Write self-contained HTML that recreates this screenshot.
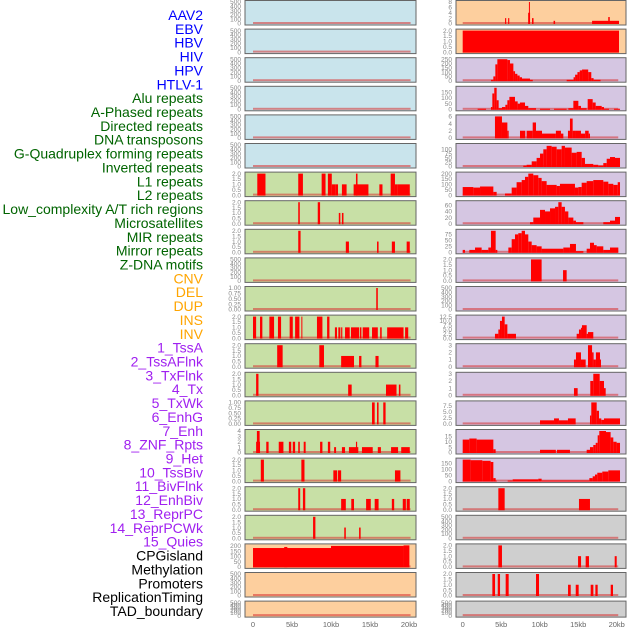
<!DOCTYPE html>
<html><head><meta charset="utf-8">
<style>
html,body{margin:0;padding:0;background:#fff;}
#wrap{position:relative;width:630px;height:630px;overflow:hidden;font-family:"Liberation Sans",sans-serif;}
svg{position:absolute;left:0;top:0;}
</style></head>
<body>
<div id="wrap">
<svg id="chart" width="630" height="630" viewBox="0 0 630 630"></svg>
</div>
<script>
const trackNames = ["AAV2","EBV","HBV","HIV","HPV","HTLV-1","Alu repeats","A-Phased repeats","Directed repeats","DNA transposons","G-Quadruplex forming repeats","Inverted repeats","L1 repeats","L2 repeats","Low_complexity A/T rich regions","Microsatellites","MIR repeats","Mirror repeats","Z-DNA motifs","CNV","DEL","DUP","INS","INV","1_TssA","2_TssAFlnk","3_TxFlnk","4_Tx","5_TxWk","6_EnhG","7_Enh","8_ZNF_Rpts","9_Het","10_TssBiv","11_BivFlnk","12_EnhBiv","13_ReprPC","14_ReprPCWk","15_Quies","CPGisland","Methylation","Promoters","ReplicationTiming","TAD_boundary"];
const labelColors = ["#0000ff","#006400","#ffa500","#a020f0","#000000"];
const labelGroup = [0,0,0,0,0,0,1,1,1,1,1,1,1,1,1,1,1,1,1,2,2,2,2,2,3,3,3,3,3,3,3,3,3,3,3,3,3,3,3,4,4,4,4,4];
const panelColors = {blue:"#c9e4ec",green:"#c8e0a6",orange:"#fdcf9e",purple:"#d5c6e2",gray:"#cfcfcf"};
const trackBg = ["blue","blue","blue","blue","blue","blue","green","green","green","green","green","green","green","green","green","green","green","green","green","orange","orange","orange","orange","orange","purple","purple","purple","purple","purple","purple","purple","purple","purple","purple","purple","purple","purple","purple","purple","gray","gray","gray","gray","gray"];
const xTickValues = [0,5,10,15,20];
const xTickLabels = ["0","5kb","10kb","15kb","20kb"];

const trackYMax = [500,500,500,500,500,500,2,2,2,500,1,2,2,2,1,4,2,2,2,205,500,500,8,2,250,190,6,125,200,70,90,2,500,12.5,3,3,9,20,180,2,500,2,2,500];
const tick500 = ["0","100","200","300","400","500"];
const tick2 = ["0.0","0.5","1.0","1.5","2.0"];
const tick1 = ["0.00","0.25","0.50","0.75","1.00"];
const tick4 = ["0","1","2","3","4"];
const tick200 = ["0","50","100","150","200"];
const tick8 = ["0","2","4","6","8"];
const tick250 = ["0","50","100","150","200","250"];
const tick150 = ["0","50","100","150"];
const tick6 = ["0","2","4","6"];
const tick100 = ["0","25","50","75","100"];
const tick60 = ["0","20","40","60"];
const tick75 = ["0","25","50","75"];
const tick125 = ["0.0","2.5","5.0","7.5","10.0","12.5"];
const tick3 = ["0","1","2","3"];
const tick75b = ["0.0","2.5","5.0","7.5"];
const tick15 = ["0","5","10","15"];
const trackTicks = [tick500,tick500,tick500,tick500,tick500,tick500,tick2,tick2,tick2,tick500,tick1,tick2,tick2,tick2,tick1,tick4,tick2,tick2,tick2,tick200,tick500,tick500,tick8,tick2,tick250,tick150,tick6,tick100,tick200,tick60,tick75,tick2,tick500,tick125,tick3,tick3,tick75b,tick15,tick150,tick2,tick500,tick2,tick2,tick500];

const aluRepeats = [[0.55,1.6,2],[5.8,6.4,2],[8.8,9.3,2],[9.6,10.1,2],[10.1,10.6,1],[10.6,10.9,1],[11.4,12.0,1],[12.9,14.8,1],[13.2,13.4,2],[16.2,16.6,1],[17.65,18.2,2],[18.2,18.5,1],[18.5,20.1,1]];
const aPhased = [[5.8,6.0,2],[8.3,8.6,2],[11.0,11.2,1],[11.4,11.6,1]];
const directed = [[5.8,6.1,2],[11.9,12.3,1],[15.9,16.1,1],[17.8,18.2,1],[19.7,20.1,1]];
const gQuad = [[15.8,16.0,1]];
const inverted = [[0,0.4,2],[0.9,1.2,2],[2.1,2.7,2],[3.2,3.6,2],[4.7,5.1,2],[5.4,5.95,2],[6.2,6.3,2],[8.2,8.9,2],[9.5,9.8,2],[10.5,10.77,1],[10.94,11.2,1],[11.3,11.45,1],[11.8,12.4,1],[12.56,13.6,1],[13.7,13.9,1],[14.06,14.9,1],[15.26,16.0,1],[16.3,16.5,1],[17.2,19.3,1],[19.5,19.9,1]];
const l1 = [[3.1,3.8,2],[8.5,9.1,2],[11.3,12.95,1],[13.6,13.9,1],[15.7,16.1,1]];
const l2 = [[0.4,0.7,2],[12.2,12.65,1],[17.05,18.4,1],[18.7,18.9,1]];
const lowComplexity = [[15.26,15.6,1],[15.9,16.1,1],[16.7,17.0,1]];
const microsat = [[0.4,0.9,2],[0.5,0.85,4],[1.7,2.0,2],[3.3,3.9,2],[4.6,4.9,2],[5.1,5.4,2],[5.8,6.0,2],[6.5,6.75,2],[8.6,8.9,2],[9.6,9.9,2],[10.4,10.65,1],[11.4,11.8,1],[12.3,13.5,1],[13.2,13.35,2],[13.97,15.35,1],[16.0,16.4,1],[17.7,18.6,1],[19.0,20.1,1]];
const mir = [[1.0,1.4,2],[6.2,6.6,2],[10.3,10.8,1],[10.9,11.3,1],[18.2,18.9,1]];
const mirror = [[5.8,6.05,2],[6.4,6.7,2],[11.3,11.9,1],[12.6,12.95,1],[14.5,15.1,1],[15.6,16.1,1],[17.8,18.1,1],[19.2,19.6,1],[19.7,20.1,1]];
const zdna = [[7.7,8.0,2],[11.7,11.9,1],[13.6,13.8,1]];
const cnv = [[0,10,180],[4.0,4.4,190],[10,19.3,200],[19.3,20.05,205]];
const ins = [[5.5,5.65,2],[5.9,6.05,2],[8.5,8.75,4],[8.6,8.7,8],[9.0,9.2,2],[11.8,12.0,1],[16.8,20.3,1],[18.9,19.1,2.4]];
const inv = [[0,20.3,2]];
const tssA = [[3.67,3.98,10],[3.98,4.24,50],[4.24,4.5,190],[4.5,5.8,250],[5.8,6.14,240],[6.14,6.58,200],[6.58,6.8,110],[6.8,7.1,80],[7.1,7.4,60],[7.4,7.7,40],[7.7,8.74,25],[8.74,9.1,10],[13.5,14.4,10],[14.4,14.6,40],[14.6,14.9,70],[14.9,15.2,100],[15.2,15.5,120],[15.5,16.3,130],[16.3,16.7,100],[16.7,17.0,30],[17.0,17.9,10]];
const tssAFlnk = [[1.94,3.03,5],[3.67,3.85,20],[3.85,4.1,140],[4.1,4.41,190],[4.41,4.67,80],[4.67,5.1,10],[5.1,5.54,20],[5.54,5.8,40],[5.8,6.06,80],[6.06,6.79,110],[6.79,7.14,70],[7.14,7.44,50],[7.44,8.09,60],[8.09,8.52,30],[8.52,9.52,10],[10.04,11.34,5],[11.86,13.5,5],[13.72,14.37,10],[14.37,15.02,75],[15.02,15.36,30],[15.36,16.1,10],[16.23,16.88,90],[16.88,17.27,60],[17.27,18.05,30],[18.05,18.35,20],[18.35,19.0,5],[19.65,20.43,5]];
const txFlnk = [[4.19,5.1,6],[5.1,5.8,4.3],[5.8,5.97,2],[7.44,8.13,2],[8.3,9.09,2],[9.09,9.52,4.3],[9.52,10.3,2],[10.3,12.1,1.2],[12.1,12.76,2],[12.76,13.07,1.2],[13.67,13.93,2],[13.93,14.28,5.4],[14.28,14.71,2],[14.71,15.36,2],[15.36,15.9,1.2],[15.9,16.36,2],[16.36,16.53,1.2]];
const tx = [[7.87,8.3,5],[8.3,8.96,10],[8.96,9.6,30],[9.6,10.04,50],[10.04,10.47,75],[10.47,10.9,100],[10.9,11.55,120],[11.55,12.2,115],[12.2,12.85,100],[12.85,13.28,120],[13.28,14.15,110],[14.15,14.8,80],[14.8,15.45,85],[15.45,15.88,50],[15.88,16.96,15],[16.96,17.6,10],[17.6,18.26,5],[18.26,18.7,20],[18.7,19.13,45],[19.13,19.78,55],[19.78,20.43,50]];
const txWk = [[0,1.38,75],[1.38,2.25,70],[2.25,3.98,80],[3.98,4.41,30],[5.49,6.36,15],[6.36,7.0,70],[7.0,7.66,120],[7.66,8.09,140],[8.09,8.52,170],[8.52,9.17,200],[9.17,9.82,185],[9.82,10.25,160],[10.25,10.9,130],[10.9,12.2,95],[12.2,12.63,85],[12.63,14.58,105],[14.58,15.02,70],[15.02,15.45,75],[15.45,16.1,115],[16.1,16.96,130],[16.96,18.26,140],[18.26,18.91,125],[18.91,19.56,105],[19.56,20.13,95],[20.13,20.43,120]];
const enhG = [[8.74,9.17,5],[9.17,10.04,20],[10.04,10.69,45],[10.69,11.34,40],[11.34,11.99,50],[11.99,12.42,55],[12.42,12.85,70],[12.85,13.28,55],[13.28,13.72,40],[13.72,14.37,20],[14.37,14.71,10],[14.71,15.67,5],[18.26,19.13,5],[19.13,19.78,10],[19.78,20.43,22]];
const enh = [[0,0.3,10],[0.86,1.6,10],[1.6,2.46,20],[2.46,3.33,10],[3.33,3.67,20],[3.67,4.28,90],[4.28,4.5,10],[5.93,6.36,20],[6.36,6.79,55],[6.79,7.22,75],[7.22,7.66,80],[7.66,8.09,90],[8.09,8.52,75],[8.52,8.96,45],[8.96,9.6,30],[9.6,10.25,25],[10.25,13.07,15],[13.07,13.93,20],[13.93,14.71,35],[14.71,15.67,5],[16.1,16.53,15],[16.53,17.05,40],[17.05,17.4,30],[17.4,18.26,25],[18.26,19.13,10],[19.13,20.21,20]];
const znfRpts = [[8.87,10.25,2],[13.03,13.5,1]];
const tssBiv = [[4.19,4.63,2.5],[4.63,4.84,5],[4.84,5.1,10],[5.1,5.45,12.5],[5.45,5.8,8],[5.8,6.92,2.5],[14.8,15.1,2.5],[15.1,15.36,5],[15.36,15.49,6],[15.49,16.1,7.5],[16.1,16.27,2.5],[16.27,16.96,3.5]];
const bivFlnk = [[14.45,14.71,1],[14.71,15.36,2],[15.36,15.97,1],[16.27,16.8,3],[16.8,17.0,2],[17.0,17.3,1],[17.3,17.83,2],[17.83,17.96,1]];
const enhBiv = [[14.45,14.93,1],[16.57,16.96,2],[16.96,17.79,3],[17.79,18.35,2],[18.35,18.57,1]];
const reprPC = [[10.04,11.86,1.5],[11.86,12.5,2.3],[12.5,13.67,1.5],[13.67,14.67,2.3],[16.53,16.7,3.5],[16.7,17.4,9],[17.4,17.7,5.5],[17.7,18.0,2.3],[18.0,18.35,1.7],[18.35,20.43,2.3]];
const reprPCWk = [[0,0.86,12],[0.86,1.81,13],[1.81,3.98,12],[3.98,4.28,3],[10.04,12.1,2.5],[12.24,13.93,2.5],[16.1,16.53,2.5],[16.53,16.96,5],[16.96,17.27,7],[17.27,17.53,9],[17.53,17.74,16],[17.74,18.61,20],[18.61,19.21,19],[19.21,19.56,14],[19.56,19.99,10],[19.99,20.43,9]];
const quies = [[0,1.03,180],[1.03,2.55,175],[2.55,3.63,170],[3.63,3.98,160],[3.98,4.28,25],[4.28,4.41,5],[5.84,6.49,5],[6.49,9.82,15],[9.82,10.25,20],[10.25,16.45,5],[16.45,16.88,25],[16.88,17.18,40],[17.18,17.48,55],[17.48,18.13,70],[18.13,18.91,80],[18.91,20.43,90]];
const cpg = [[4.63,5.45,2],[15.1,16.53,1]];
const promoters = [[4.63,5.1,2],[14.98,15.37,1],[15.97,16.4,1],[19.74,20.0,1]];
const replication = [[3.85,4.2,2],[4.55,4.85,2],[5.58,5.97,2],[9.52,9.91,2],[13.68,14.03,1],[14.68,15.06,1],[16.62,16.97,1],[17.23,17.53,1],[19.22,19.52,1]];
const empty = [];
const trackData = [empty,empty,empty,empty,empty,empty,aluRepeats,aPhased,directed,empty,gQuad,inverted,l1,l2,lowComplexity,microsat,mir,mirror,zdna,cnv,empty,empty,ins,inv,tssA,tssAFlnk,txFlnk,tx,txWk,enhG,enh,znfRpts,empty,tssBiv,bivFlnk,enhBiv,reprPC,reprPCWk,quies,cpg,empty,promoters,replication,empty];

const NS = "http://www.w3.org/2000/svg";
const svg = document.getElementById("chart");
const ROWS = 22, PITCH = 28.6;
const cols = [{px:245,pw:171,x0:253,kx:7.8,tickX:241},{px:456,pw:170,x0:462.7,kx:7.7,tickX:452}];
function mk(tag, attrs){const e=document.createElementNS(NS,tag);for(const k in attrs)e.setAttribute(k,attrs[k]);return e;}

trackNames.forEach((n,i)=>{
  const t = mk("text",{x:203,y:15+13.86*i+5,"text-anchor":"end","font-size":"14",fill:labelColors[labelGroup[i]],"font-family":"Liberation Sans, sans-serif"});
  
  
  t.textContent = n; svg.appendChild(t);
});

function xScale(c,kb){return c.x0 + kb*c.kx;}
trackNames.forEach((n,i)=>{
  const c = cols[i<ROWS?0:1];
  const r = i % ROWS;
  const top = 0.5 + PITCH*r;
  const h = (r === ROWS-1) ? 16 : 24.5;
  const zeroY = top + h - 1.5;
  const span = h - 3;
  const ymax = trackYMax[i];
  const yScale = v => zeroY - v/ymax*span;
  const g = mk("g",{});
  
  
  const bg = mk("rect",{x:c.px,y:top,width:c.pw,height:h,fill:panelColors[trackBg[i]],stroke:"#666","stroke-width":"1"});
  
  
  g.appendChild(bg);
  const base = mk("rect",{x:xScale(c,0),y:zeroY-1.5,width:20.2*c.kx,height:2,fill:"rgba(215,50,50,0.55)"});
  
  
  g.appendChild(base);
  trackData[i].forEach(s=>{
    const y = yScale(s[2]);
    const b = mk("rect",{x:xScale(c,s[0]),y:y,width:Math.max(1,(s[1]-s[0])*c.kx),height:zeroY-y+0.5,fill:"#ff0000"});
    
    
    g.appendChild(b);
  });
  const ticks = trackTicks[i];
  ticks.forEach(lbl=>{
    const v = parseFloat(lbl);
    const t = mk("text",{x:c.tickX,y:yScale(v)+2.2,"text-anchor":"end","font-size":"6.5",fill:"#888","font-family":"Liberation Sans, sans-serif"});
    
    
    t.textContent = lbl; g.appendChild(t);
  });
  svg.appendChild(g);
});

cols.forEach(c=>{
  xTickValues.forEach((v,k)=>{
    const t = mk("text",{x:xScale(c,v),y:627,"text-anchor":"middle","font-size":"7.5",fill:"#666","font-family":"Liberation Sans, sans-serif"});
    
    
    t.textContent = xTickLabels[k]; svg.appendChild(t);
  });
});
</script>
</body></html>
